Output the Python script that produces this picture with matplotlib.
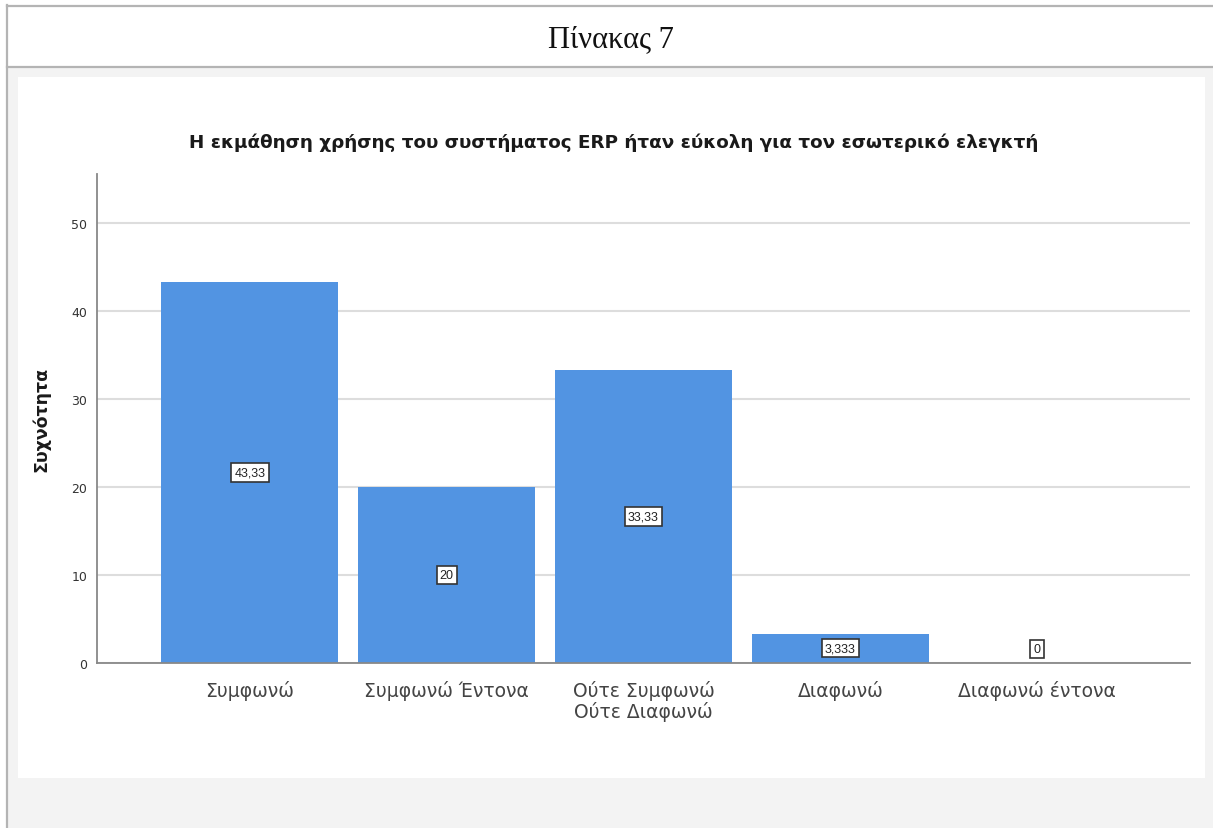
import matplotlib.pyplot as plt
from matplotlib.patches import Rectangle
from matplotlib.lines import Line2D

categories = ["Συμφωνώ", "Συμφωνώ Έντονα", "Ούτε Συμφωνώ\nΟύτε Διαφωνώ",
              "Διαφωνώ", "Διαφωνώ έντονα"]
values = [43.33, 20, 33.33, 3.333, 0]
value_labels = ["43,33", "20", "33,33", "3,333", "0"]
y_ticks = [0, 10, 20, 30, 40, 50]

title = "Η εκμάθηση χρήσης του συστήματος ERP ήταν εύκολη για τον εσωτερικό ελεγκτή"
header = "Πίνακας 7"
y_label = "Συχνότητα"

W, H = 1213, 829
fig = plt.figure(figsize=(W / 100, H / 100), dpi=100)
fig.patch.set_facecolor("white")


def px(x0, y0, x1, y1):
    # pixel box (top-left origin) -> figure fraction rectangle
    return (x0 / W, 1 - y1 / H, (x1 - x0) / W, (y1 - y0) / H)


# page background and chart panel
x, y, w, h = px(7, 68, W, H)
fig.patches.append(Rectangle((x, y), w, h, transform=fig.transFigure,
                             facecolor="#f3f3f3", edgecolor="none", zorder=-2))
x, y, w, h = px(18, 78, 1205, 779)
fig.patches.append(Rectangle((x, y), w, h, transform=fig.transFigure,
                             facecolor="white", edgecolor="none", zorder=-1))

# header frame lines
for (xa, ya, xb, yb) in [(7, 6.5, W, 6.5), (7, 67.5, W, 67.5), (7, 6, 7, H)]:
    fig.lines.append(Line2D([xa / W, xb / W], [1 - ya / H, 1 - yb / H],
                            transform=fig.transFigure, color="#b4b4b4", lw=1.6,
                            zorder=-0.5))

fig.text(611 / W, 1 - 40 / H, header, ha="center", va="center",
         fontsize=22, family="Liberation Serif", color="#111111")

fig.text(614 / W, 1 - 143 / H, title, ha="center", va="center",
         fontsize=13.2, fontweight="bold", family="DejaVu Sans", color="#1a1a1a")

ax = fig.add_axes([97 / W, 1 - 664 / H, (1190 - 97) / W, (664 - 175) / H])
ax.set_zorder(2)
ax.set_facecolor("none")

pos = list(range(len(categories)))
ax.bar(pos, values, width=0.9, color="#5294e2", zorder=2)

ax.set_xlim(-0.777, len(categories) - 1 + 0.777)
ax.set_ylim(0, 55.6)
ax.set_yticks(y_ticks)
ax.set_yticklabels([str(t) for t in y_ticks], fontsize=9, color="#333333",
                   family="DejaVu Sans")
ax.set_xticks(pos)
ax.set_xticklabels(categories, fontsize=13.5, color="#444444",
                   family="DejaVu Sans", linespacing=1.1)
ax.tick_params(axis="both", length=0)
ax.tick_params(axis="x", pad=12)
ax.tick_params(axis="y", pad=7)

ax.yaxis.grid(True, color="#dddddd", lw=1.5, zorder=1)
ax.set_axisbelow(True)
for s in ["top", "right"]:
    ax.spines[s].set_visible(False)
for s in ["left", "bottom"]:
    ax.spines[s].set_color("#888888")
    ax.spines[s].set_linewidth(1.3)

ax.set_ylabel(y_label, fontsize=12.5, fontweight="bold", family="DejaVu Sans",
              color="#1a1a1a", labelpad=15)

for p, v, lab in zip(pos, values, value_labels):
    ax.text(p, max(v / 2, 1.6), lab, ha="center", va="center", fontsize=9,
            family="Liberation Sans", color="#222222", zorder=4,
            bbox=dict(boxstyle="square,pad=0.25", facecolor="white",
                      edgecolor="#333333", lw=1.2))

fig.savefig("out.png", dpi=100)
